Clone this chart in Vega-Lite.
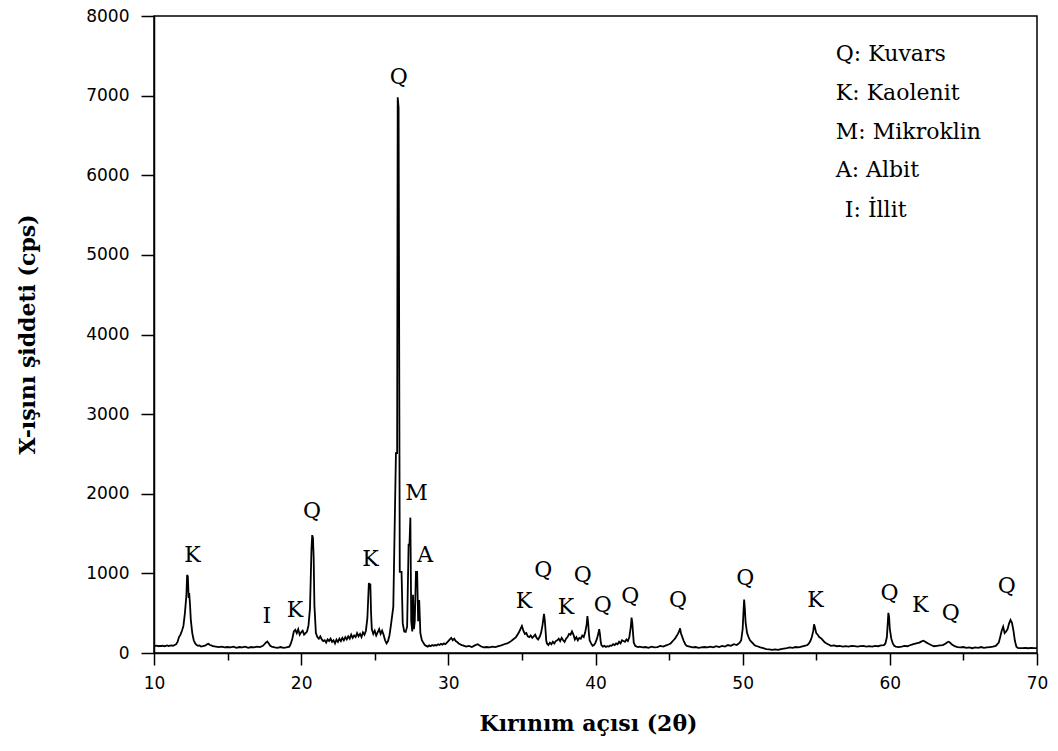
{
"$schema": "https://vega.github.io/schema/vega-lite/v6.json",
"width": 883,
"height": 637,
"autosize": {"type": "none"},
"padding": {"left": 154, "top": 16, "right": 21, "bottom": 98},
"background": "white",
"config": {"view": {"stroke": "black", "strokeWidth": 1.5}},
"datasets": {
"xrd": [
{"angle":10.0,"intensity":95},{"angle":10.1,"intensity":90},{"angle":10.2,"intensity":92},{"angle":10.3,"intensity":85},{"angle":10.4,"intensity":90},{"angle":10.5,"intensity":88},{"angle":10.6,"intensity":92},{"angle":10.7,"intensity":85},{"angle":10.8,"intensity":90},{"angle":10.9,"intensity":95},{"angle":11.0,"intensity":88},{"angle":11.1,"intensity":92},{"angle":11.2,"intensity":95},{"angle":11.3,"intensity":90},{"angle":11.4,"intensity":100},{"angle":11.5,"intensity":110},{"angle":11.6,"intensity":140},{"angle":11.7,"intensity":200},{"angle":11.8,"intensity":230},{"angle":11.9,"intensity":280},{"angle":12.0,"intensity":340},{"angle":12.1,"intensity":500},{"angle":12.2,"intensity":720},{"angle":12.25,"intensity":980},{"angle":12.3,"intensity":960},{"angle":12.35,"intensity":720},{"angle":12.4,"intensity":730},{"angle":12.45,"intensity":600},{"angle":12.5,"intensity":420},{"angle":12.6,"intensity":250},{"angle":12.7,"intensity":160},{"angle":12.8,"intensity":120},{"angle":12.9,"intensity":100},{"angle":13.0,"intensity":90},{"angle":13.1,"intensity":95},{"angle":13.2,"intensity":80},{"angle":13.4,"intensity":90},{"angle":13.5,"intensity":95},{"angle":13.6,"intensity":110},{"angle":13.7,"intensity":115},{"angle":13.8,"intensity":100},{"angle":13.9,"intensity":95},{"angle":14.0,"intensity":85},{"angle":14.2,"intensity":80},{"angle":14.4,"intensity":75},{"angle":14.6,"intensity":80},{"angle":14.8,"intensity":70},{"angle":15.0,"intensity":75},{"angle":15.2,"intensity":70},{"angle":15.4,"intensity":80},{"angle":15.6,"intensity":65},{"angle":15.8,"intensity":75},{"angle":16.0,"intensity":70},{"angle":16.2,"intensity":80},{"angle":16.4,"intensity":65},{"angle":16.6,"intensity":75},{"angle":16.8,"intensity":70},{"angle":17.0,"intensity":80},{"angle":17.2,"intensity":75},{"angle":17.4,"intensity":90},{"angle":17.5,"intensity":110},{"angle":17.6,"intensity":130},{"angle":17.7,"intensity":145},{"angle":17.8,"intensity":120},{"angle":17.9,"intensity":90},{"angle":18.0,"intensity":80},{"angle":18.2,"intensity":70},{"angle":18.4,"intensity":65},{"angle":18.6,"intensity":75},{"angle":18.8,"intensity":65},{"angle":19.0,"intensity":70},{"angle":19.2,"intensity":80},{"angle":19.3,"intensity":120},{"angle":19.4,"intensity":180},{"angle":19.5,"intensity":270},{"angle":19.6,"intensity":290},{"angle":19.7,"intensity":250},{"angle":19.8,"intensity":300},{"angle":19.9,"intensity":230},{"angle":20.0,"intensity":260},{"angle":20.1,"intensity":280},{"angle":20.2,"intensity":230},{"angle":20.3,"intensity":250},{"angle":20.4,"intensity":270},{"angle":20.5,"intensity":350},{"angle":20.6,"intensity":560},{"angle":20.7,"intensity":1300},{"angle":20.75,"intensity":1480},{"angle":20.8,"intensity":1450},{"angle":20.85,"intensity":1200},{"angle":20.9,"intensity":600},{"angle":21.0,"intensity":250},{"angle":21.1,"intensity":200},{"angle":21.2,"intensity":180},{"angle":21.3,"intensity":210},{"angle":21.4,"intensity":170},{"angle":21.5,"intensity":150},{"angle":21.6,"intensity":160},{"angle":21.7,"intensity":130},{"angle":21.8,"intensity":170},{"angle":21.9,"intensity":150},{"angle":22.0,"intensity":180},{"angle":22.1,"intensity":140},{"angle":22.2,"intensity":160},{"angle":22.3,"intensity":120},{"angle":22.4,"intensity":170},{"angle":22.5,"intensity":140},{"angle":22.6,"intensity":180},{"angle":22.7,"intensity":150},{"angle":22.8,"intensity":190},{"angle":22.9,"intensity":160},{"angle":23.0,"intensity":200},{"angle":23.1,"intensity":170},{"angle":23.2,"intensity":210},{"angle":23.3,"intensity":180},{"angle":23.4,"intensity":230},{"angle":23.5,"intensity":190},{"angle":23.6,"intensity":220},{"angle":23.7,"intensity":200},{"angle":23.8,"intensity":250},{"angle":23.9,"intensity":210},{"angle":24.0,"intensity":240},{"angle":24.1,"intensity":200},{"angle":24.2,"intensity":260},{"angle":24.3,"intensity":230},{"angle":24.4,"intensity":280},{"angle":24.5,"intensity":440},{"angle":24.6,"intensity":880},{"angle":24.65,"intensity":850},{"angle":24.7,"intensity":870},{"angle":24.75,"intensity":500},{"angle":24.8,"intensity":300},{"angle":24.9,"intensity":240},{"angle":25.0,"intensity":280},{"angle":25.1,"intensity":220},{"angle":25.2,"intensity":260},{"angle":25.3,"intensity":300},{"angle":25.4,"intensity":240},{"angle":25.5,"intensity":280},{"angle":25.6,"intensity":230},{"angle":25.7,"intensity":160},{"angle":25.8,"intensity":120},{"angle":25.9,"intensity":150},{"angle":26.0,"intensity":220},{"angle":26.1,"intensity":350},{"angle":26.26,"intensity":580},{"angle":26.44,"intensity":2510},{"angle":26.52,"intensity":2510},{"angle":26.56,"intensity":6980},{"angle":26.62,"intensity":6850},{"angle":26.7,"intensity":1020},{"angle":26.82,"intensity":1020},{"angle":26.9,"intensity":375},{"angle":27.0,"intensity":270},{"angle":27.1,"intensity":265},{"angle":27.2,"intensity":330},{"angle":27.3,"intensity":1360},{"angle":27.36,"intensity":1360},{"angle":27.42,"intensity":1700},{"angle":27.48,"intensity":400},{"angle":27.55,"intensity":270},{"angle":27.6,"intensity":730},{"angle":27.66,"intensity":300},{"angle":27.72,"intensity":400},{"angle":27.8,"intensity":1020},{"angle":27.88,"intensity":1020},{"angle":27.95,"intensity":400},{"angle":28.02,"intensity":665},{"angle":28.1,"intensity":250},{"angle":28.2,"intensity":160},{"angle":28.3,"intensity":130},{"angle":28.4,"intensity":100},{"angle":28.5,"intensity":90},{"angle":28.6,"intensity":80},{"angle":28.7,"intensity":95},{"angle":28.8,"intensity":85},{"angle":28.9,"intensity":100},{"angle":29.0,"intensity":90},{"angle":29.1,"intensity":100},{"angle":29.2,"intensity":95},{"angle":29.3,"intensity":110},{"angle":29.4,"intensity":100},{"angle":29.5,"intensity":115},{"angle":29.6,"intensity":105},{"angle":29.7,"intensity":120},{"angle":29.8,"intensity":110},{"angle":29.9,"intensity":130},{"angle":30.0,"intensity":150},{"angle":30.1,"intensity":170},{"angle":30.2,"intensity":190},{"angle":30.3,"intensity":160},{"angle":30.4,"intensity":180},{"angle":30.5,"intensity":150},{"angle":30.6,"intensity":140},{"angle":30.7,"intensity":120},{"angle":30.8,"intensity":110},{"angle":30.9,"intensity":100},{"angle":31.0,"intensity":95},{"angle":31.2,"intensity":80},{"angle":31.4,"intensity":90},{"angle":31.6,"intensity":75},{"angle":31.8,"intensity":95},{"angle":32.0,"intensity":110},{"angle":32.2,"intensity":85},{"angle":32.4,"intensity":70},{"angle":32.6,"intensity":75},{"angle":32.8,"intensity":70},{"angle":33.0,"intensity":80},{"angle":33.2,"intensity":75},{"angle":33.4,"intensity":85},{"angle":33.6,"intensity":95},{"angle":33.8,"intensity":110},{"angle":34.0,"intensity":120},{"angle":34.2,"intensity":140},{"angle":34.4,"intensity":170},{"angle":34.6,"intensity":200},{"angle":34.8,"intensity":260},{"angle":34.9,"intensity":300},{"angle":35.0,"intensity":340},{"angle":35.1,"intensity":280},{"angle":35.2,"intensity":240},{"angle":35.3,"intensity":250},{"angle":35.4,"intensity":210},{"angle":35.5,"intensity":200},{"angle":35.6,"intensity":220},{"angle":35.7,"intensity":190},{"angle":35.8,"intensity":210},{"angle":35.9,"intensity":230},{"angle":36.0,"intensity":190},{"angle":36.1,"intensity":170},{"angle":36.2,"intensity":200},{"angle":36.3,"intensity":250},{"angle":36.4,"intensity":350},{"angle":36.5,"intensity":490},{"angle":36.55,"intensity":420},{"angle":36.6,"intensity":300},{"angle":36.65,"intensity":160},{"angle":36.7,"intensity":120},{"angle":36.8,"intensity":100},{"angle":36.9,"intensity":130},{"angle":37.0,"intensity":110},{"angle":37.1,"intensity":140},{"angle":37.2,"intensity":120},{"angle":37.3,"intensity":150},{"angle":37.4,"intensity":160},{"angle":37.5,"intensity":180},{"angle":37.6,"intensity":150},{"angle":37.7,"intensity":190},{"angle":37.8,"intensity":160},{"angle":37.9,"intensity":140},{"angle":38.0,"intensity":180},{"angle":38.1,"intensity":200},{"angle":38.2,"intensity":240},{"angle":38.3,"intensity":230},{"angle":38.4,"intensity":270},{"angle":38.5,"intensity":230},{"angle":38.6,"intensity":170},{"angle":38.7,"intensity":200},{"angle":38.8,"intensity":160},{"angle":38.9,"intensity":190},{"angle":39.0,"intensity":180},{"angle":39.1,"intensity":220},{"angle":39.2,"intensity":200},{"angle":39.3,"intensity":260},{"angle":39.4,"intensity":360},{"angle":39.45,"intensity":465},{"angle":39.5,"intensity":380},{"angle":39.55,"intensity":250},{"angle":39.6,"intensity":160},{"angle":39.7,"intensity":120},{"angle":39.8,"intensity":90},{"angle":39.9,"intensity":100},{"angle":40.0,"intensity":130},{"angle":40.1,"intensity":180},{"angle":40.2,"intensity":250},{"angle":40.25,"intensity":300},{"angle":40.3,"intensity":240},{"angle":40.35,"intensity":150},{"angle":40.4,"intensity":100},{"angle":40.5,"intensity":80},{"angle":40.6,"intensity":90},{"angle":40.7,"intensity":75},{"angle":40.8,"intensity":85},{"angle":40.9,"intensity":80},{"angle":41.0,"intensity":95},{"angle":41.1,"intensity":90},{"angle":41.2,"intensity":110},{"angle":41.3,"intensity":100},{"angle":41.4,"intensity":120},{"angle":41.5,"intensity":110},{"angle":41.6,"intensity":140},{"angle":41.7,"intensity":120},{"angle":41.8,"intensity":160},{"angle":41.9,"intensity":150},{"angle":42.0,"intensity":140},{"angle":42.1,"intensity":170},{"angle":42.2,"intensity":150},{"angle":42.3,"intensity":200},{"angle":42.4,"intensity":330},{"angle":42.45,"intensity":445},{"angle":42.5,"intensity":380},{"angle":42.55,"intensity":250},{"angle":42.6,"intensity":130},{"angle":42.7,"intensity":90},{"angle":42.8,"intensity":80},{"angle":42.9,"intensity":75},{"angle":43.0,"intensity":80},{"angle":43.2,"intensity":70},{"angle":43.4,"intensity":75},{"angle":43.6,"intensity":65},{"angle":43.8,"intensity":80},{"angle":44.0,"intensity":70},{"angle":44.2,"intensity":75},{"angle":44.4,"intensity":90},{"angle":44.6,"intensity":80},{"angle":44.8,"intensity":95},{"angle":45.0,"intensity":110},{"angle":45.1,"intensity":120},{"angle":45.2,"intensity":140},{"angle":45.3,"intensity":160},{"angle":45.4,"intensity":180},{"angle":45.5,"intensity":210},{"angle":45.6,"intensity":240},{"angle":45.7,"intensity":280},{"angle":45.75,"intensity":310},{"angle":45.8,"intensity":250},{"angle":45.9,"intensity":200},{"angle":46.0,"intensity":150},{"angle":46.1,"intensity":110},{"angle":46.2,"intensity":90},{"angle":46.4,"intensity":80},{"angle":46.6,"intensity":70},{"angle":46.8,"intensity":75},{"angle":47.0,"intensity":65},{"angle":47.2,"intensity":70},{"angle":47.4,"intensity":75},{"angle":47.6,"intensity":70},{"angle":47.8,"intensity":80},{"angle":48.0,"intensity":70},{"angle":48.2,"intensity":85},{"angle":48.4,"intensity":75},{"angle":48.6,"intensity":90},{"angle":48.8,"intensity":80},{"angle":49.0,"intensity":100},{"angle":49.2,"intensity":90},{"angle":49.4,"intensity":110},{"angle":49.6,"intensity":100},{"angle":49.8,"intensity":130},{"angle":49.9,"intensity":160},{"angle":50.0,"intensity":300},{"angle":50.05,"intensity":500},{"angle":50.1,"intensity":670},{"angle":50.15,"intensity":550},{"angle":50.2,"intensity":380},{"angle":50.3,"intensity":250},{"angle":50.4,"intensity":200},{"angle":50.5,"intensity":160},{"angle":50.6,"intensity":140},{"angle":50.7,"intensity":120},{"angle":50.8,"intensity":100},{"angle":50.9,"intensity":90},{"angle":51.0,"intensity":85},{"angle":51.2,"intensity":70},{"angle":51.4,"intensity":60},{"angle":51.6,"intensity":50},{"angle":51.8,"intensity":45},{"angle":52.0,"intensity":40},{"angle":52.2,"intensity":45},{"angle":52.4,"intensity":40},{"angle":52.6,"intensity":50},{"angle":52.8,"intensity":55},{"angle":53.0,"intensity":60},{"angle":53.2,"intensity":70},{"angle":53.4,"intensity":65},{"angle":53.6,"intensity":75},{"angle":53.8,"intensity":70},{"angle":54.0,"intensity":80},{"angle":54.2,"intensity":90},{"angle":54.4,"intensity":100},{"angle":54.5,"intensity":120},{"angle":54.6,"intensity":150},{"angle":54.7,"intensity":200},{"angle":54.8,"intensity":280},{"angle":54.85,"intensity":360},{"angle":54.9,"intensity":330},{"angle":55.0,"intensity":250},{"angle":55.1,"intensity":230},{"angle":55.2,"intensity":200},{"angle":55.3,"intensity":190},{"angle":55.4,"intensity":170},{"angle":55.5,"intensity":150},{"angle":55.6,"intensity":130},{"angle":55.7,"intensity":120},{"angle":55.8,"intensity":110},{"angle":55.9,"intensity":100},{"angle":56.0,"intensity":90},{"angle":56.2,"intensity":95},{"angle":56.4,"intensity":85},{"angle":56.6,"intensity":90},{"angle":56.8,"intensity":80},{"angle":57.0,"intensity":85},{"angle":57.2,"intensity":80},{"angle":57.4,"intensity":90},{"angle":57.6,"intensity":85},{"angle":57.8,"intensity":80},{"angle":58.0,"intensity":85},{"angle":58.2,"intensity":90},{"angle":58.4,"intensity":80},{"angle":58.6,"intensity":85},{"angle":58.8,"intensity":80},{"angle":59.0,"intensity":90},{"angle":59.2,"intensity":85},{"angle":59.4,"intensity":95},{"angle":59.6,"intensity":100},{"angle":59.7,"intensity":120},{"angle":59.8,"intensity":200},{"angle":59.85,"intensity":350},{"angle":59.9,"intensity":505},{"angle":59.95,"intensity":450},{"angle":60.0,"intensity":300},{"angle":60.1,"intensity":180},{"angle":60.2,"intensity":120},{"angle":60.3,"intensity":90},{"angle":60.4,"intensity":80},{"angle":60.6,"intensity":75},{"angle":60.8,"intensity":80},{"angle":61.0,"intensity":90},{"angle":61.2,"intensity":85},{"angle":61.4,"intensity":100},{"angle":61.6,"intensity":110},{"angle":61.8,"intensity":120},{"angle":62.0,"intensity":130},{"angle":62.1,"intensity":140},{"angle":62.2,"intensity":150},{"angle":62.3,"intensity":155},{"angle":62.4,"intensity":140},{"angle":62.5,"intensity":130},{"angle":62.6,"intensity":120},{"angle":62.8,"intensity":100},{"angle":63.0,"intensity":85},{"angle":63.2,"intensity":90},{"angle":63.4,"intensity":95},{"angle":63.6,"intensity":100},{"angle":63.8,"intensity":120},{"angle":63.9,"intensity":135},{"angle":64.0,"intensity":142},{"angle":64.1,"intensity":130},{"angle":64.2,"intensity":110},{"angle":64.4,"intensity":85},{"angle":64.6,"intensity":75},{"angle":64.8,"intensity":70},{"angle":65.0,"intensity":75},{"angle":65.2,"intensity":65},{"angle":65.4,"intensity":70},{"angle":65.6,"intensity":60},{"angle":65.8,"intensity":70},{"angle":66.0,"intensity":65},{"angle":66.2,"intensity":75},{"angle":66.4,"intensity":65},{"angle":66.6,"intensity":70},{"angle":66.8,"intensity":75},{"angle":67.0,"intensity":80},{"angle":67.2,"intensity":90},{"angle":67.4,"intensity":130},{"angle":67.5,"intensity":200},{"angle":67.6,"intensity":280},{"angle":67.7,"intensity":330},{"angle":67.8,"intensity":250},{"angle":67.9,"intensity":270},{"angle":68.0,"intensity":300},{"angle":68.1,"intensity":370},{"angle":68.2,"intensity":415},{"angle":68.3,"intensity":380},{"angle":68.4,"intensity":280},{"angle":68.5,"intensity":150},{"angle":68.6,"intensity":80},{"angle":68.7,"intensity":65},{"angle":68.8,"intensity":60},{"angle":69.0,"intensity":60},{"angle":69.2,"intensity":65},{"angle":69.4,"intensity":60},{"angle":69.6,"intensity":65},{"angle":69.8,"intensity":60},{"angle":70.0,"intensity":60}
],
"peaks": [
{"angle":12.62,"intensity":1143,"label":"K"},
{"angle":17.66,"intensity":377,"label":"I"},
{"angle":19.58,"intensity":452,"label":"K"},
{"angle":20.73,"intensity":1696,"label":"Q"},
{"angle":24.71,"intensity":1093,"label":"K"},
{"angle":26.64,"intensity":7147,"label":"Q"},
{"angle":27.83,"intensity":1922,"label":"M"},
{"angle":28.43,"intensity":1143,"label":"A"},
{"angle":35.14,"intensity":565,"label":"K"},
{"angle":36.45,"intensity":955,"label":"Q"},
{"angle":37.99,"intensity":490,"label":"K"},
{"angle":39.14,"intensity":892,"label":"Q"},
{"angle":40.5,"intensity":515,"label":"Q"},
{"angle":42.37,"intensity":628,"label":"Q"},
{"angle":45.6,"intensity":578,"label":"Q"},
{"angle":50.17,"intensity":854,"label":"Q"},
{"angle":54.94,"intensity":578,"label":"K"},
{"angle":59.98,"intensity":666,"label":"Q"},
{"angle":62.07,"intensity":515,"label":"K"},
{"angle":64.14,"intensity":414,"label":"Q"},
{"angle":67.95,"intensity":754,"label":"Q"}
],
"key": [
{"angle":56.33,"intensity":7434,"label":"Q: Kuvars"},
{"angle":56.33,"intensity":6946,"label":"K: Kaolenit"},
{"angle":56.33,"intensity":6456,"label":"M: Mikroklin"},
{"angle":56.33,"intensity":5979,"label":"A: Albit"},
{"angle":56.94,"intensity":5476,"label":"I: İllit"}
]
},
"layer": [
{
"data": {"name": "xrd"},
"mark": {"type": "line", "color": "black", "strokeWidth": 1.8, "clip": true},
"encoding": {
"x": {"field": "angle", "type": "quantitative",
"scale": {"domain": [10, 70], "nice": false, "zero": false},
"axis": {
"values": [10,15,20,25,30,35,40,45,50,55,60,65,70],
"labelExpr": "datum.value % 10 === 0 ? datum.label : ''",
"grid": false,
"domainColor": "black", "domainWidth": 1.5,
"tickColor": "black", "tickWidth": 1.5,
"tickSize": {"condition": {"test": "datum.value % 10 === 0", "value": 12}, "value": 7},
"labelFont": "DejaVu Sans", "labelFontSize": 17, "labelColor": "black",
"labelPadding": 10, "labelFlush": false, "labelOverlap": false,
"title": "Kırınım açısı (2θ)",
"titleFont": "DejaVu Serif", "titleFontSize": 22, "titleFontWeight": "bold", "titleColor": "black",
"titleX": 434, "titleY": 77, "titleBaseline": "alphabetic", "titleAlign": "center"
}
},
"y": {"field": "intensity", "type": "quantitative",
"scale": {"domain": [0, 8000], "nice": false},
"axis": {
"values": [0,500,1000,1500,2000,2500,3000,3500,4000,4500,5000,5500,6000,6500,7000,7500,8000],
"labelExpr": "datum.value % 1000 === 0 ? datum.label : ''",
"format": "d",
"grid": false,
"domainColor": "black", "domainWidth": 1.5,
"tickColor": "black", "tickWidth": 1.5,
"tickSize": {"condition": {"test": "datum.value % 1000 === 0", "value": 13}, "value": 7},
"labelFont": "DejaVu Sans", "labelFontSize": 17, "labelColor": "black",
"labelPadding": 12, "labelFlush": false, "labelOverlap": false,
"title": "X-ışını şiddeti (cps)",
"titleFont": "DejaVu Serif", "titleFontSize": 22, "titleFontWeight": "bold", "titleColor": "black",
"titleX": -120, "titleY": 318, "titleAngle": -90, "titleBaseline": "alphabetic", "titleAlign": "center"
}
}
}
},
{
"data": {"name": "peaks"},
"mark": {"type": "text", "font": "DejaVu Serif", "fontSize": 22, "align": "center", "baseline": "alphabetic", "color": "black"},
"encoding": {
"x": {"field": "angle", "type": "quantitative"},
"y": {"field": "intensity", "type": "quantitative"},
"text": {"field": "label"}
}
},
{
"data": {"name": "key"},
"mark": {"type": "text", "font": "DejaVu Serif", "fontSize": 22, "align": "left", "baseline": "alphabetic", "color": "black"},
"encoding": {
"x": {"field": "angle", "type": "quantitative"},
"y": {"field": "intensity", "type": "quantitative"},
"text": {"field": "label"}
}
}
]
}
